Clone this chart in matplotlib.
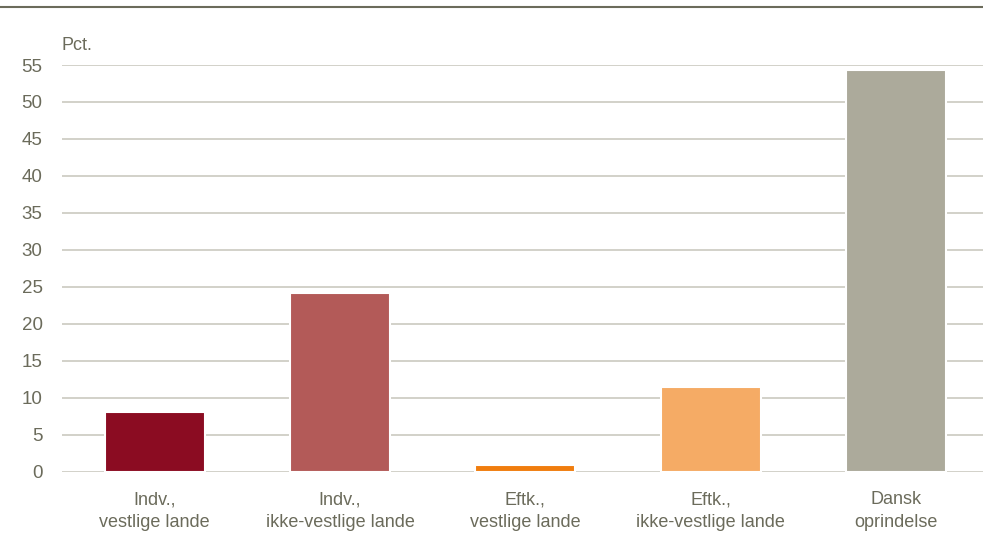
import matplotlib.pyplot as plt

# ------------------------- data --------------------------------
categories = ['Indv.,\nvestlige lande', 'Indv.,\nikke-vestlige lande',
              'Eftk.,\nvestlige lande', 'Eftk.,\nikke-vestlige lande',
              'Dansk\noprindelse']
values = [8.1, 24.2, 0.9, 11.5, 54.3]
colors = ['#8b0c22', '#b35a58', '#f07d0e', '#f5ab65', '#acaa9b']
yticks = list(range(0, 60, 5))

plt.rcParams['font.family'] = ['Liberation Sans', 'DejaVu Sans']
text_col = '#6b6b5b'

# ------------------------- plot --------------------------------
fig = plt.figure(figsize=(9.83, 5.4), dpi=100)
ax = fig.add_axes([62 / 983, 1 - 471.7 / 540, 921 / 983, 406.7 / 540])

x = range(len(categories))
ax.bar(x, values, width=0.54, color=colors, edgecolor='white', linewidth=1.5, zorder=3)

ax.set_ylim(0, 55)
ax.set_xlim(-0.5, 4.47)
ax.set_yticks(yticks)
ax.set_xticks(list(x))
ax.set_xticklabels(categories, fontsize=13, color=text_col, linespacing=1.45)
ax.tick_params(axis='y', labelsize=13.5, colors=text_col, length=0, pad=14)
ax.tick_params(axis='x', length=0, pad=14)
ax.grid(axis='y', color='#cfcec5', linewidth=1.3, zorder=0)
for s in ax.spines.values():
    s.set_visible(False)

fig.text(62 / 983, 1 - 45 / 540, 'Pct.', fontsize=13, color=text_col, va='center', ha='left')
fig.add_artist(plt.Line2D([0, 1], [1 - 7 / 540, 1 - 7 / 540], color='#6b6b5b', linewidth=1.5))

fig.savefig('out.png', dpi=100)
